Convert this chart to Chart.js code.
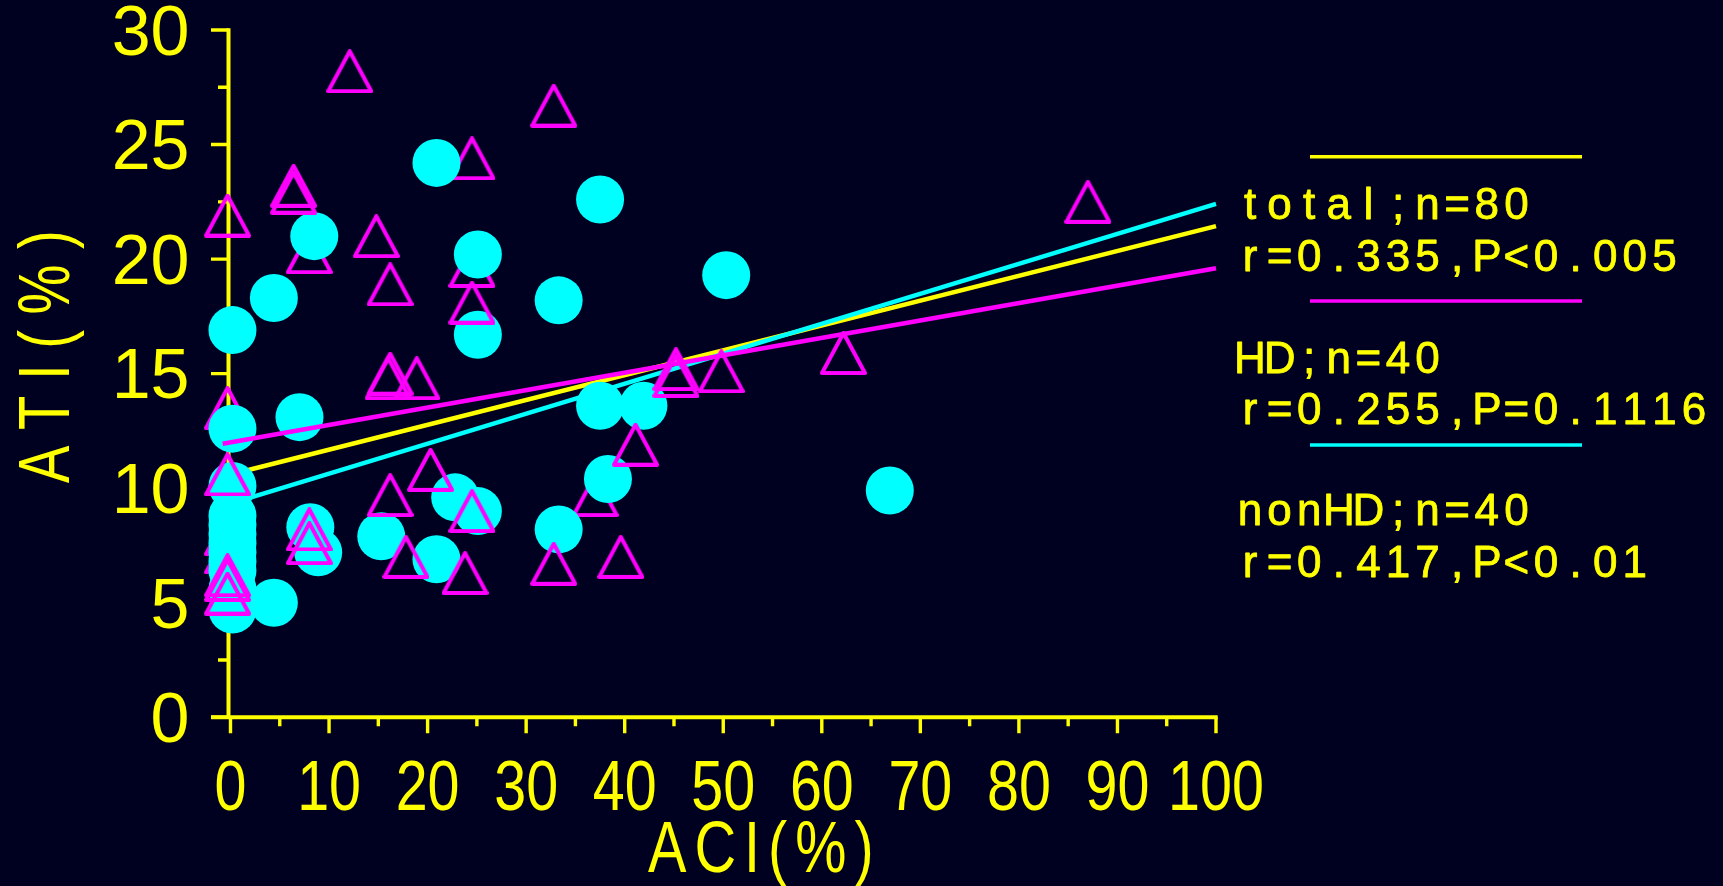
<!DOCTYPE html>
<html>
<head>
<meta charset="utf-8">
<style>
  html, body { margin: 0; padding: 0; background: #000020; }
  canvas { display: block; }
</style>
<script src="https://cdn.jsdelivr.net/npm/chart.js@4.4.1/dist/chart.umd.min.js"></script>
</head>
<body>
<canvas id="chart" width="1723" height="886"></canvas>
<script>
// ---- axis ticks ----
const xTickValues = [0, 10, 20, 30, 40, 50, 60, 70, 80, 90, 100];
const yTickValues = [0, 5, 10, 15, 20, 25, 30];

// ---- HD group (open triangles), [ACI %, ATI %] ----
// points that sit beneath the nonHD circles
const hdBack = [
  [24.5, 24.4], [8.0, 20.3], [24.5, 19.7], [37.0, 9.7],
  [-0.3, 13.5], [-0.3, 8.0], [-0.3, 7.2]
];
// points drawn above the circles
const hdFront = [
  [12.1, 28.2], [32.8, 26.7], [6.4, 23.2], [6.4, 22.9], [-0.3, 21.9],
  [14.8, 21.0], [16.2, 18.9], [24.5, 18.1], [16.2, 15.0], [16.0, 14.8],
  [18.9, 14.8], [45.2, 15.2], [45.2, 14.9], [49.8, 15.1], [62.2, 15.9],
  [87.0, 22.5], [-0.3, 10.6], [-0.3, 6.2], [-0.3, 6.0], [-0.3, 5.4],
  [8.0, 8.2], [8.0, 7.6], [16.2, 9.7], [20.3, 10.8], [17.8, 7.0],
  [24.5, 9.0], [23.8, 6.3], [32.8, 6.7], [39.6, 7.0], [41.1, 11.9]
];

// ---- nonHD group (filled circles) ----
const nonHD = [
  [20.9, 24.2], [37.5, 22.6], [8.5, 21.0], [25.1, 20.2], [4.4, 18.3],
  [33.3, 18.2], [0.2, 16.9], [25.1, 16.7], [50.3, 19.3], [66.9, 9.9],
  [0.2, 12.6], [7.0, 13.1], [37.5, 13.6], [41.9, 13.6], [0.2, 10.1],
  [0.2, 8.8], [0.2, 8.4], [0.2, 8.0], [0.2, 7.6], [0.2, 7.2],
  [0.2, 6.8], [0.2, 6.4], [0.2, 5.6], [0.2, 4.7], [4.4, 5.0],
  [8.1, 8.3], [8.9, 7.2], [15.3, 7.9], [22.8, 9.6], [25.1, 9.0],
  [20.9, 6.9], [33.3, 8.2], [38.3, 10.4]
];

// ---- regression lines, end points ----
const fitTotal = [[0, 10.6], [100, 21.44]];
const fitHD = [[-0.8, 11.94], [100, 19.6]];
const fitNonHD = [[0, 9.33], [100, 22.41]];

// ---- legend text ----
const legendTotal = ['total;n=80', 'r=0.335,P<0.005'];
const legendHD = ['HD;n=40', 'r=0.255,P=0.1116'];
const legendNonHD = ['nonHD;n=40', 'r=0.417,P<0.01'];

const xTitle = 'ACI(%)';
const yTitle = 'ATI(%)';

const BG = '#000020';
const YELLOW = '#ffff00';
const MAGENTA = '#ff00ff';
const CYAN = '#00ffff';

const toXY = arr => arr.map(([x, y]) => ({ x, y }));

// open triangle marker
function makeTriangle(w, h, lw, color) {
  const c = document.createElement('canvas');
  c.width = w; c.height = h;
  const g = c.getContext('2d');
  const i = lw / 2;
  g.strokeStyle = color;
  g.lineWidth = lw;
  g.lineJoin = 'round';
  g.beginPath();
  g.moveTo(w / 2, i);
  g.lineTo(w - i, h - i);
  g.lineTo(i, h - i);
  g.closePath();
  g.stroke();
  return c;
}
const triangle = makeTriangle(47, 44, 4, MAGENTA);

// text laid out with fixed character cells, slightly emboldened
function drawPitched(ctx, text, cx0, y, pitch) {
  ctx.textAlign = 'center';
  for (let i = 0; i < text.length; i++) {
    ctx.fillText(text[i], cx0 + i * pitch, y);
    ctx.strokeText(text[i], cx0 + i * pitch, y);
  }
}
// text squeezed horizontally with extra tracking
function drawTracked(ctx, text, x, y, sx, track) {
  ctx.save();
  ctx.translate(x, y);
  ctx.scale(sx, 1);
  ctx.textAlign = 'left';
  let cur = 0;
  for (const ch of text) {
    ctx.fillText(ch, cur, 0);
    cur += ctx.measureText(ch).width + track;
  }
  ctx.restore();
}

const decorations = {
  id: 'decorations',
  beforeDraw(chart) {
    const { ctx, width, height } = chart;
    ctx.save();
    ctx.fillStyle = BG;
    ctx.fillRect(0, 0, width, height);
    ctx.restore();
  },
  beforeDatasetsDraw(chart) {
    const { ctx, scales: { x, y } } = chart;
    const ax = x.getPixelForValue(0) - 2;
    const ay = y.getPixelForValue(0);
    const top = y.getPixelForValue(30);
    const right = x.getPixelForValue(100);
    ctx.save();
    ctx.strokeStyle = YELLOW;
    ctx.lineCap = 'butt';
    // axis lines
    ctx.lineWidth = 4;
    ctx.beginPath();
    ctx.moveTo(ax, top - 1.7);
    ctx.lineTo(ax, ay + 2);
    ctx.moveTo(ax - 17.5, ay);
    ctx.lineTo(right + 1.7, ay);
    ctx.stroke();
    // y ticks, major and minor
    ctx.lineWidth = 3.4;
    ctx.beginPath();
    yTickValues.forEach((v, i) => {
      const py = y.getPixelForValue(v);
      ctx.moveTo(ax - 17.5, py); ctx.lineTo(ax, py);
      if (i < yTickValues.length - 1) {
        const pm = y.getPixelForValue((v + yTickValues[i + 1]) / 2);
        ctx.moveTo(ax - 10.5, pm); ctx.lineTo(ax, pm);
      }
    });
    // x ticks, major and minor
    xTickValues.forEach((v, i) => {
      const px = x.getPixelForValue(v);
      ctx.moveTo(px, ay); ctx.lineTo(px, ay + 16);
      if (i < xTickValues.length - 1) {
        const pm = x.getPixelForValue((v + xTickValues[i + 1]) / 2);
        ctx.moveTo(pm, ay); ctx.lineTo(pm, ay + 9);
      }
    });
    ctx.stroke();
    ctx.restore();
  },
  afterDraw(chart) {
    const { ctx, scales: { x } } = chart;
    ctx.save();
    ctx.fillStyle = YELLOW;
    ctx.textBaseline = 'alphabetic';

    // x tick labels (narrow face)
    ctx.font = '70px "Liberation Sans"';
    xTickValues.forEach(v => {
      ctx.save();
      ctx.translate(x.getPixelForValue(v), 810);
      ctx.scale(0.82, 1);
      ctx.textAlign = 'center';
      ctx.fillText(String(v), 0, 0);
      ctx.restore();
    });

    // axis titles
    ctx.font = '72px "Liberation Sans"';
    drawTracked(ctx, xTitle, 648, 871.5, 0.8, 10);
    ctx.save();
    ctx.translate(69, 483);
    ctx.rotate(-Math.PI / 2);
    drawTracked(ctx, yTitle, 0, 0, 0.78, 20);
    ctx.restore();

    // legend block: swatch line + two text rows per group
    const groups = [
      { color: YELLOW, lineY: 156.7, rows: legendTotal, base: 219.3 },
      { color: MAGENTA, lineY: 301, rows: legendHD, base: 372.7 },
      { color: CYAN, lineY: 445, rows: legendNonHD, base: 525 }
    ];
    groups.forEach(g => {
      ctx.strokeStyle = g.color;
      ctx.lineWidth = 3.5;
      ctx.beginPath();
      ctx.moveTo(1310, g.lineY);
      ctx.lineTo(1582, g.lineY);
      ctx.stroke();
      ctx.fillStyle = YELLOW;
      ctx.strokeStyle = YELLOW;
      ctx.lineWidth = 0.8;
      ctx.lineJoin = 'round';
      ctx.font = '44px "Liberation Sans"';
      g.rows.forEach((t, i) => drawPitched(ctx, t, 1250, g.base + i * 51.5, 29.6));
    });
    ctx.restore();
  }
};

const lineDs = (data, color, order) => ({
  data: toXY(data), showLine: true, borderColor: color, borderWidth: 4.5,
  pointRadius: 0, fill: false, clip: false, order
});

new Chart(document.getElementById('chart'), {
  type: 'scatter',
  data: {
    datasets: [
      lineDs(fitTotal, YELLOW, 6),
      lineDs(fitNonHD, CYAN, 5),
      { label: 'HD', data: toXY(hdBack), pointStyle: triangle, pointRadius: 23, clip: false, order: 4 },
      { label: 'nonHD', data: toXY(nonHD), pointStyle: 'circle', pointRadius: 24,
        backgroundColor: CYAN, borderWidth: 0, clip: false, order: 3 },
      lineDs(fitHD, MAGENTA, 2),
      { label: 'HD', data: toXY(hdFront), pointStyle: triangle, pointRadius: 23, clip: false, order: 1 }
    ]
  },
  options: {
    responsive: false,
    animation: false,
    devicePixelRatio: 1,
    events: [],
    layout: { padding: { top: 30, right: 507, bottom: 0, left: 0 } },
    plugins: { legend: { display: false }, tooltip: { enabled: false } },
    scales: {
      x: {
        type: 'linear', min: 0, max: 100,
        grid: { display: false, drawTicks: false },
        border: { display: false },
        ticks: { display: false },
        afterFit(s) { s.height = 886 - 717.3; }
      },
      y: {
        type: 'linear', min: 0, max: 30,
        // tick length only reserves the gap between labels and axis
        grid: { display: false, drawTicks: true, tickLength: 41 },
        border: { display: false },
        ticks: {
          stepSize: 5, color: YELLOW, padding: 0, labelOffset: 5.5,
          font: { family: 'Liberation Sans', size: 70, lineHeight: 0.8 }
        },
        afterFit(s) { s.width = 230.5; }
      }
    }
  },
  plugins: [decorations]
});
</script>
</body>
</html>
